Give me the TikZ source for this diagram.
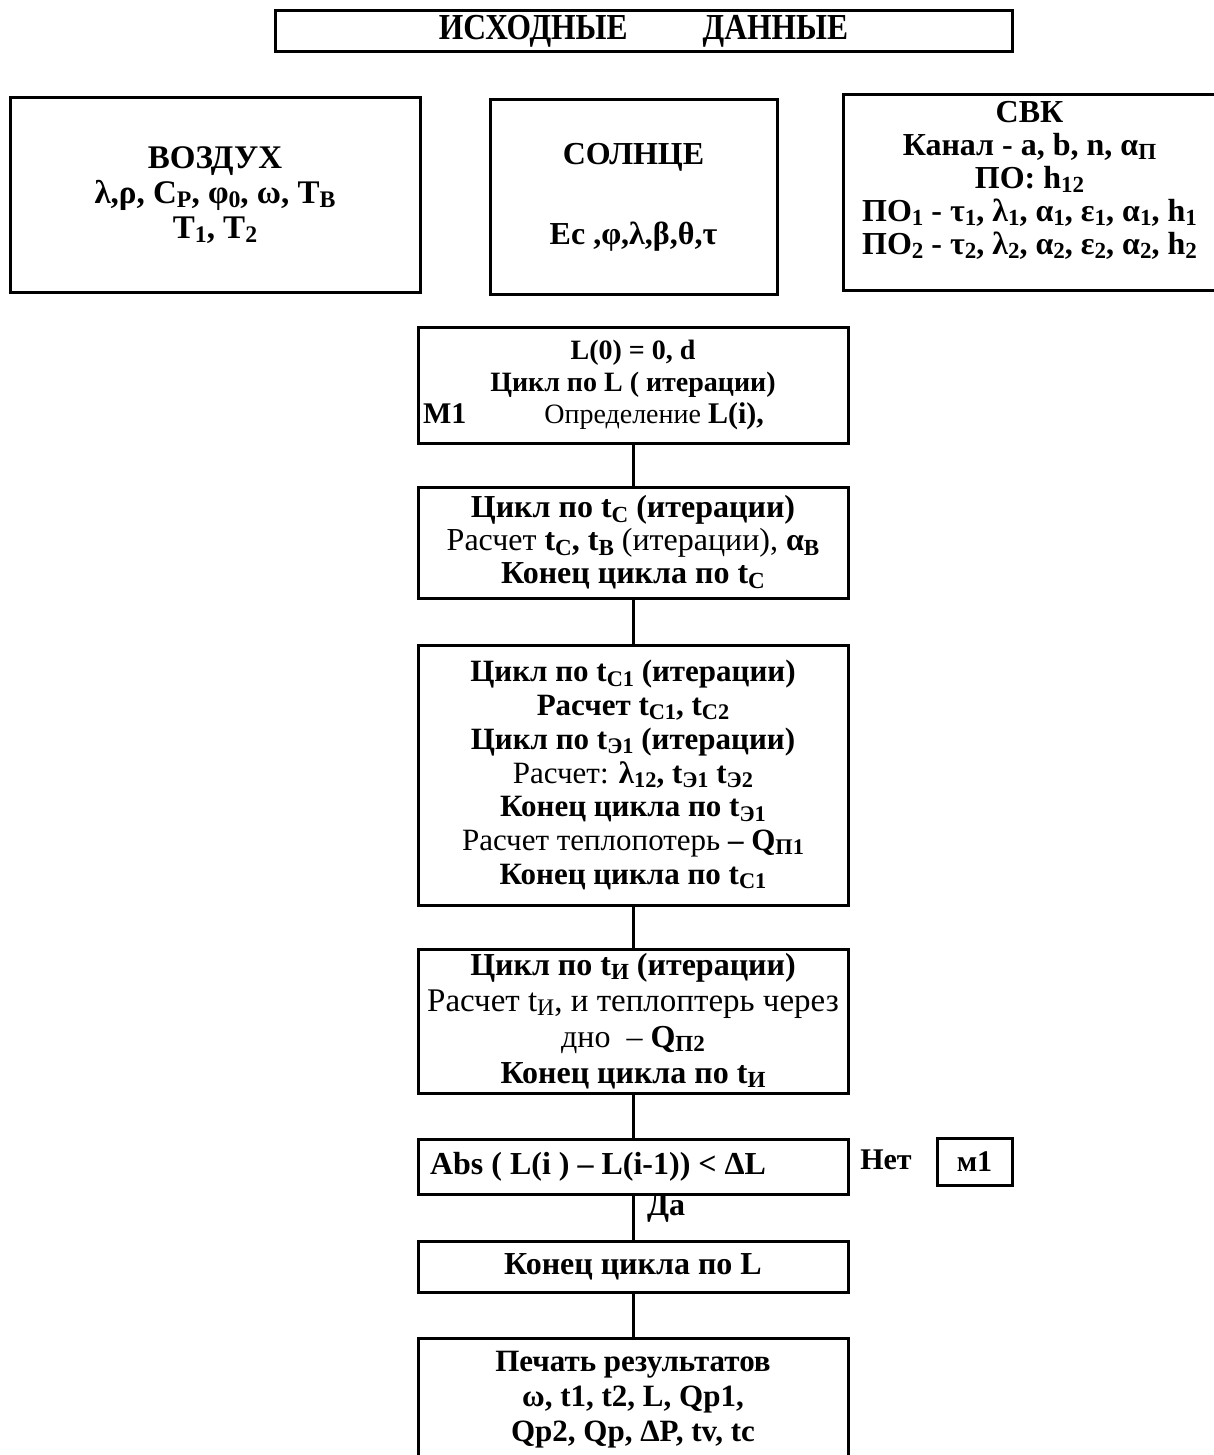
\documentclass[tikz,border=0pt]{standalone}
\usepackage{fontspec}
\setmainfont{Liberation Serif}
\usetikzlibrary{positioning}
\newcommand{\ix}[1]{\raisebox{-0.3ex}{\scalebox{0.72}{#1}}}
\newcommand{\nb}[1]{{\mdseries #1}}
\newcommand{\fs}[1]{\fontsize{#1}{#1}\selectfont}
\begin{document}
\begin{tikzpicture}[x=0.5pt, y=-0.5pt, line width=1.5pt,
  box/.style={rectangle, draw, line width=1.5pt, inner sep=1pt, align=center},
  flow/.style={box, minimum width=215pt},
  txt/.style={inner sep=0pt, align=center}]
\useasboundingbox (0,0) rectangle (1214,1455);
\begin{scope}[every node/.style={font=\fontsize{16}{16.5}\selectfont\bfseries}]
\node[box, minimum width=368.5pt, minimum height=20.5pt, font=\fontsize{15}{16}\selectfont\bfseries] (title) at (643.5,31.5) {\scalebox{1.05}[1.22]{ИСХОДНЫЕ\hspace{32pt} ДАННЫЕ}};
\node[box, minimum width=205pt, minimum height=97pt, font=\fontsize{16.5}{17.5}\selectfont\bfseries] (air) at (215,195) {ВОЗДУХ\\ λ,ρ, C\ix{P}, φ\ix{0}, ω, T\ix{B}\\ T\ix{1}, T\ix{2}};
\node[box, minimum width=143.5pt, minimum height=97pt] (sun) at (633.5,197) {СОЛНЦЕ\\[23.5pt] Ec ,φ,λ,β,θ,τ};
\node[box, minimum width=186.5pt, minimum height=97.5pt] (svk) at (1029.5,192.5) {};
\node[txt, below=3pt of svk.north] (svktext) {СВК\\ Канал - a, b, n, α\ix{П}\\ ПО: h\ix{12}\\ ПО\ix{1} - τ\ix{1}, λ\ix{1}, α\ix{1}, ε\ix{1}, α\ix{1}, h\ix{1}\\ ПО\ix{2} - τ\ix{2}, λ\ix{2}, α\ix{2}, ε\ix{2}, α\ix{2}, h\ix{2}};
%flow chart
\node[flow, minimum height=58pt, font=\fontsize{14}{16}\selectfont\bfseries] (lstart) at (633,385) {L(0) = 0, d\\ Цикл по L ( итерации)\\ \makebox[212pt][l]{\hspace{1pt}{\fs{15}М1}\hspace{39pt}{\fs{14}\mdseries Определение} {\fs{15}L(i),}}};
\node[flow, minimum height=55.5pt] (tcloop) at (633,542.5) {Цикл по t\ix{C} (итерации)\\ \nb{Расчет} t\ix{C}, t\ix{B} \nb{(итерации),} α\ix{B}\\ Конец цикла по t\ix{C}};
\node[flow, minimum height=130pt, font=\fontsize{15.5}{16.85}\selectfont\bfseries] (tcone) at (633,775) {Цикл по t\ix{C1} (итерации)\\ Расчет t\ix{C1}, t\ix{C2}\\ Цикл по t\ix{Э1} (итерации)\\ \nb{Расчет:} λ\ix{12}, t\ix{Э1} t\ix{Э2}\\ Конец цикла по t\ix{Э1}\\ \nb{Расчет теплопотерь} – Q\ix{П1}\\ Конец цикла по t\ix{C1}};
\node[flow, minimum height=72pt, font=\fontsize{16}{18}\selectfont\bfseries] (tiloop) at (633,1021) {Цикл по t\ix{И} (итерации)\\ {\fontsize{16.5}{18}\selectfont\mdseries Расчет t\ix{И}, и теплоптерь через}\\ \nb{дно\ \ –} Q\ix{П2}\\ Конец цикла по t\ix{И}};
\node[flow, minimum height=27.5pt] (check) at (633,1166.5) {\makebox[212pt][l]{\hspace{4.5pt}Abs ( L(i ) – L(i-1)) < ΔL}};
\node[txt, font=\fontsize{15}{16}\selectfont\bfseries] (no) at (886,1160) {Нет};
\node[box, minimum width=37.5pt, minimum height=23.5pt, font=\fontsize{15}{16}\selectfont\bfseries] (mone) at (974.5,1161.5) {м1};
\node[txt] (yes) at (666,1208) {Да};
\node[flow, minimum height=25.5pt] (lend) at (633,1266.5) {Конец цикла по L};
\node[flow, minimum height=62pt, font=\fontsize{15.5}{17.5}\selectfont\bfseries] (print) at (633,1400) {Печать результатов\\ ω, t1, t2, L, Qp1,\\ Qp2, Qp, ΔP, tv, tc};
\end{scope}
\begin{scope}
\draw (lstart) edge (tcloop);
\draw (tcloop) edge (tcone);
\draw (tcone) edge (tiloop);
\draw (tiloop) edge (check);
\draw (check) edge (lend);
\draw (lend) edge (print);
\end{scope}
\end{tikzpicture}
\end{document}
